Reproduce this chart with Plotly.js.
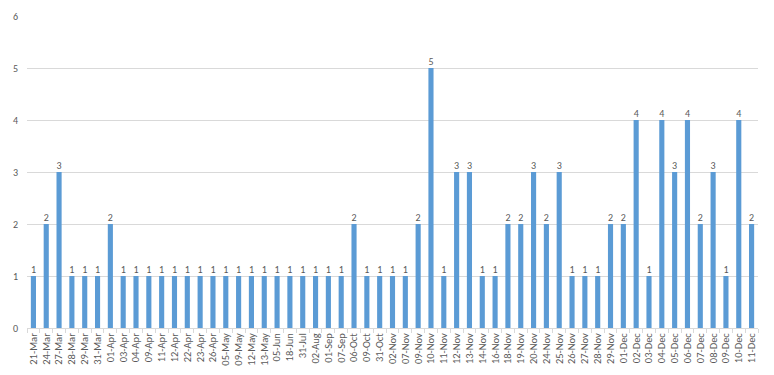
<!DOCTYPE html>
<html>
<head>
<meta charset="utf-8">
<script src="https://cdn.plot.ly/plotly-3.0.1.min.js"></script>
<style>html,body{margin:0;padding:0;background:#fff;}#chart{width:774px;height:375px;}</style>
</head>
<body>
<div id="chart"></div>
<script>
const categories = ["21-Mar","24-Mar","27-Mar","28-Mar","29-Mar","31-Mar","01-Apr","03-Apr","04-Apr","09-Apr","11-Apr","12-Apr","22-Apr","23-Apr","26-Apr","05-May","09-May","12-May","13-May","05-Jun","18-Jun","31-Jul","02-Aug","01-Sep","07-Sep","06-Oct","09-Oct","31-Oct","02-Nov","07-Nov","09-Nov","10-Nov","11-Nov","12-Nov","13-Nov","14-Nov","16-Nov","18-Nov","19-Nov","20-Nov","24-Nov","25-Nov","26-Nov","27-Nov","28-Nov","29-Nov","01-Dec","02-Dec","03-Dec","04-Dec","05-Dec","06-Dec","07-Dec","08-Dec","09-Dec","10-Dec","11-Dec"];
const values = [1,2,3,1,1,1,2,1,1,1,1,1,1,1,1,1,1,1,1,1,1,1,1,1,1,2,1,1,1,1,2,5,1,3,3,1,1,2,2,3,2,3,1,1,1,2,2,4,1,4,3,4,2,3,1,4,2];
const yTicks = [0,1,2,3,4,5,6];

const trace = {
  type: 'bar',
  x: categories,
  y: values,
  marker: {color: '#5B9BD5'},
  text: values.map(String),
  textposition: 'outside',
  textfont: {family: 'Carlito, "Liberation Sans", sans-serif', size: 10, color: '#595959'},
  cliponaxis: false,
  constraintext: 'none',
  hoverinfo: 'x+y'
};
const layout = {
  width: 774, height: 375,
  margin: {l: 27, r: 16, t: 16, b: 47},
  paper_bgcolor: '#fff', plot_bgcolor: '#fff',
  bargap: 0.6,
  showlegend: false,
  font: {family: 'Carlito, "Liberation Sans", sans-serif', color: '#595959', size: 10},
  xaxis: {
    type: 'category',
    tickmode: 'array',
    tickvals: categories,
    ticktext: categories,
    tickangle: -90,
    tickfont: {size: 10.5, color: '#595959'},
    showgrid: false,
    showline: true, linecolor: '#d9d9d9', linewidth: 1,
    ticks: 'outside', tickson: 'boundaries', ticklen: 4, tickcolor: '#d9d9d9',
    automargin: false
  },
  yaxis: {
    range: [0, 6],
    tickvals: yTicks,
    ticktext: yTicks.map(String),
    tickfont: {size: 10, color: '#595959'},
    showgrid: true, gridcolor: '#d9d9d9', gridwidth: 1,
    zeroline: false, showline: false,
    ticklen: 0, ticklabelstandoff: 8,
    automargin: false
  }
};
Plotly.newPlot('chart', [trace], layout, {displayModeBar: false, staticPlot: true});
</script>
</body>
</html>
